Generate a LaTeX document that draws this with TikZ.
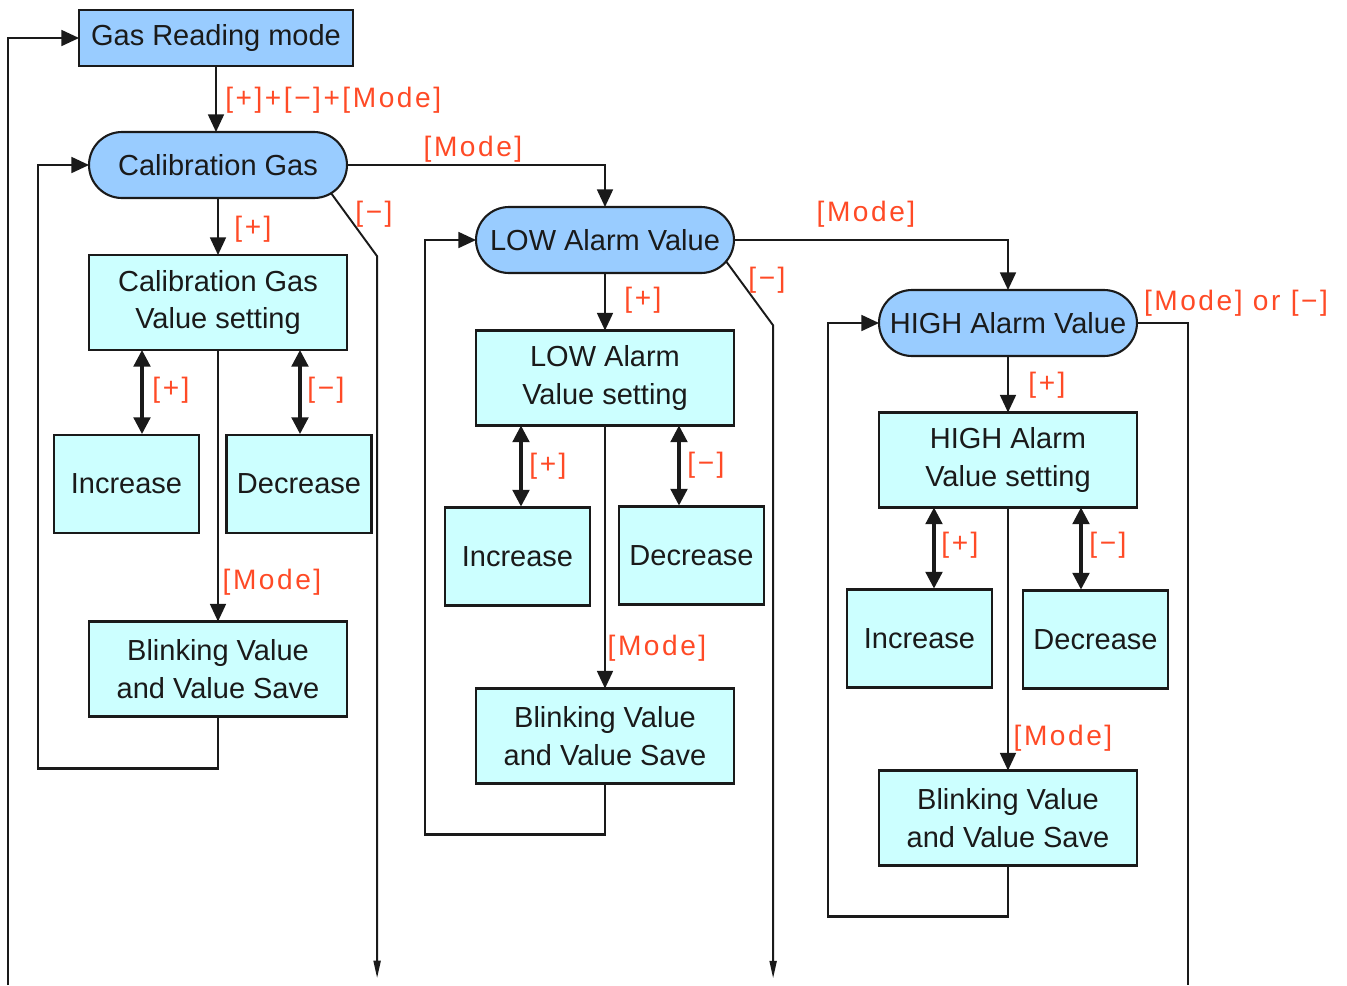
\documentclass[tikz,border=0pt]{standalone}
\usepackage{fontspec}
\setmainfont{Liberation Sans}
\newfontfamily\redfont[LetterSpace=9]{Liberation Sans}
\usetikzlibrary{arrows.meta,shapes.misc,calc}
\definecolor{blueA}{HTML}{99CCFF}
\definecolor{cyanA}{HTML}{CCFFFF}
\definecolor{redlbl}{HTML}{FF4A26}
\definecolor{inkA}{HTML}{1A1A1A}
\begin{document}
\begin{tikzpicture}[x=0.02cm,y=-0.02cm,
 base/.style={draw=inkA, line width=1.2pt, inner sep=0pt, outer sep=0pt, align=center, font=\fontsize{16.5}{21.5}\selectfont, text=inkA},
 modebox/.style={base, fill=blueA, minimum width=5.48cm, minimum height=1.12cm},
 pill/.style={base, shape=rounded rectangle, fill=blueA, minimum width=5.16cm, minimum height=1.32cm},
 setbox/.style={base, fill=cyanA, minimum width=5.16cm, minimum height=1.9cm},
 smallbox/.style={base, fill=cyanA, minimum width=2.9cm, minimum height=1.96cm},
 conn/.style={line width=1.25pt, draw=inkA, -{Triangle[length=10pt,width=9pt]}},
 plainline/.style={line width=1.25pt, draw=inkA},
 dbl/.style={line width=1.8pt, draw=inkA, {Triangle[length=9.5pt,width=9.5pt]}-{Triangle[length=9.5pt,width=9.5pt]}},
 exitarr/.style={line width=1.1pt, draw=inkA, -{Triangle[length=10pt,width=4pt]}},
 lbl/.style={text=redlbl, font=\redfont\fontsize{16}{19}\selectfont, inner sep=0pt}
]
\useasboundingbox (0,0) rectangle (1347,985);

% nodes
\node[modebox] (grm) at (216,38) {Gas Reading mode};
\node[pill] (cg) at (218,165) {Calibration Gas};
\node[setbox] (cgs) at (218,302.5) {Calibration Gas\\Value setting};
\node[smallbox] (cgi) at (126.5,484) {Increase};
\node[smallbox] (cgd) at (299,484) {Decrease};
\node[setbox] (cgb) at (218,669) {Blinking Value\\and Value Save};

\node[pill] (low) at (605,240) {LOW Alarm Value};
\node[setbox] (lows) at (605,378) {LOW Alarm\\Value setting};
\node[smallbox] (lowi) at (517.5,556.5) {Increase};
\node[smallbox] (lowd) at (691.5,555.5) {Decrease};
\node[setbox] (lowb) at (605,736) {Blinking Value\\and Value Save};

\node[pill] (high) at (1008,323) {HIGH Alarm Value};
\node[setbox] (highs) at (1008,460) {HIGH Alarm\\Value setting};
\node[smallbox] (highi) at (919.5,638.5) {Increase};
\node[smallbox] (highd) at (1095.5,639.5) {Decrease};
\node[setbox] (highb) at (1008,818) {Blinking Value\\and Value Save};

% helper coordinates
\coordinate (inL) at (8,985);
\coordinate (outR) at (1188,985);
\coordinate (x1) at (142,0);
\coordinate (x2) at (300,0);
\coordinate (x3) at (521,0);
\coordinate (x4) at (679,0);
\coordinate (x5) at (934,0);
\coordinate (x6) at (1081,0);

% entry / exit
\draw[conn] (inL) |- (grm.west);
\draw[plainline] (high.east) -| (outR);
\draw[conn] (grm.south) -- (grm.south |- cg.north);

% column 1
\draw[conn] (cg.east) -| (low.north);
\draw[conn] (cg.south) -- (cgs.north);
\draw[exitarr] (cg.-14) -- ++(46,63) -- ++(0,722);
\draw[dbl] (cgs.south -| x1) -- ($(cgi.north -| x1)+(0,-1)$);
\draw[dbl] (cgs.south -| x2) -- ($(cgd.north -| x2)+(0,-1)$);
\draw[conn] (cgs.south) -- (cgb.north);
\draw[conn] (cgb.south) -- ++(0,52) -| ($(cg.west)+(-51,0)$) -- (cg.west);

% column 2
\draw[conn] (low.east) -| (high.north);
\draw[conn] (low.south) -- (lows.north);
\draw[exitarr] (low.-10) -- ++(47,64) -- ++(0,653);
\draw[dbl] (lows.south -| x3) -- ($(lowi.north -| x3)+(0,-1)$);
\draw[dbl] (lows.south -| x4) -- ($(lowd.north -| x4)+(0,-1)$);
\draw[conn] (lows.south) -- (lowb.north);
\draw[conn] (lowb.south) -- ++(0,51) -| ($(low.west)+(-51,0)$) -- (low.west);

% column 3
\draw[conn] (high.south) -- (highs.north);
\draw[dbl] (highs.south -| x5) -- ($(highi.north -| x5)+(0,-1)$);
\draw[dbl] (highs.south -| x6) -- ($(highd.north -| x6)+(0,-1)$);
\draw[conn] (highs.south) -- (highb.north);
\draw[conn] (highb.south) -- ++(0,51) -| ($(high.west)+(-51,0)$) -- (high.west);

% labels
\node[lbl, anchor=west] (l1) at (225,100) {[+]+[−]+[Mode]};
\node[lbl] (l2) at (473,149) {[Mode]};
\node[lbl] (l3) at (374,214) {[−]};
\node[lbl] (l4) at (253,229) {[+]};
\node[lbl] (l5) at (171,390) {[+]};
\node[lbl] (l6) at (326,390) {[−]};
\node[lbl] (l7) at (272,582) {[Mode]};
\node[lbl] (l8) at (866,214) {[Mode]};
\node[lbl] (l9) at (767,280) {[−]};
\node[lbl] (l10) at (643,300) {[+]};
\node[lbl] (l11) at (548,466) {[+]};
\node[lbl] (l12) at (706,465) {[−]};
\node[lbl] (l13) at (657,648) {[Mode]};
\node[lbl] (l14) at (1236,303) {[Mode] or [−]};
\node[lbl] (l15) at (1047,385) {[+]};
\node[lbl] (l16) at (960,545) {[+]};
\node[lbl] (l17) at (1108,545) {[−]};
\node[lbl] (l18) at (1063,738) {[Mode]};
\end{tikzpicture}
\end{document}
